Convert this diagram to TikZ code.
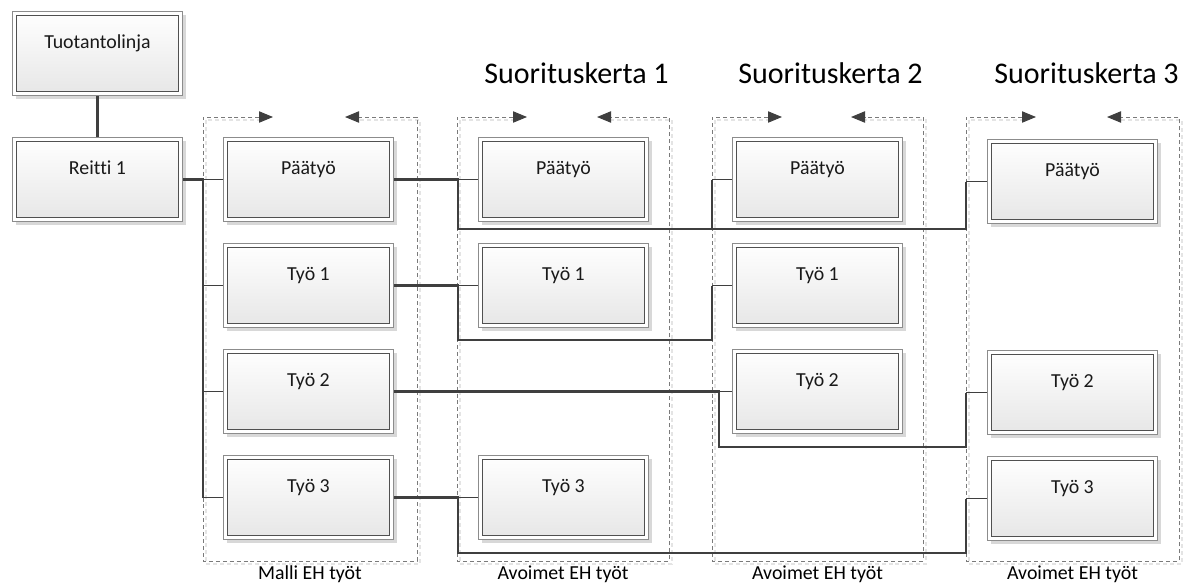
\documentclass[tikz,border=0pt]{standalone}
\usepackage{fontspec}
\setmainfont{Carlito}[Ligatures=CommonOff]
\usetikzlibrary{arrows.meta,shadows,calc}

\definecolor{linecol}{HTML}{3F3F3F}
\definecolor{framecol}{HTML}{7A7A7A}
\definecolor{frameshade}{HTML}{E4E4E4}
\definecolor{boxouter}{HTML}{8C8C8C}
\definecolor{boxinner}{HTML}{505050}
\definecolor{boxbottom}{HTML}{E6E6E6}
\definecolor{boxshade}{HTML}{D8D8D8}

\newcommand{\boxfont}{\fontsize{14.9pt}{17pt}\selectfont}
\newcommand{\titlefont}{\fontsize{22.5pt}{26pt}\selectfont}

\tikzset{
  jobbox/.style={anchor=north west, minimum width=127.5pt, minimum height=63pt,
    inner sep=0pt, draw=boxouter, line width=0.75pt, fill=white,
    drop shadow={shadow xshift=2.6pt, shadow yshift=-2.6pt, fill=boxshade, opacity=1},
    text height=4pt, text depth=11.5pt, font=\boxfont, text=black!90,
    path picture={\draw[draw=boxinner, line width=0.75pt, top color=white, bottom color=boxbottom]
      ([shift={(4,4)}]path picture bounding box.north west) rectangle
      ([shift={(-4,-4)}]path picture bounding box.south east);}},
  frameline/.style={draw=framecol, line width=0.75pt, dash pattern=on 3pt off 2.2pt},
  frameshadow/.style={draw=frameshade, line width=0.9pt, dash pattern=on 3pt off 2.2pt},
  frametip/.tip={Triangle[length=10.5pt, width=8.5pt, color=linecol, fill=linecol]},
  conn/.style={draw=linecol, line width=2.2pt},
  stub/.style={draw=linecol, line width=1.3pt},
  grouplabel/.style={anchor=base, font=\boxfont, inner sep=0pt},
  steptitle/.style={anchor=base east, font=\titlefont, inner sep=0pt}
}

\begin{document}
\begin{tikzpicture}[x=0.75pt, y=-0.75pt]
\useasboundingbox (0,0) rectangle (1197,583);

% group frames with their direction arrows and captions
\foreach \l/\r/\t/\g in {203/417/Malli EH työt/gm, 457/669/Avoimet EH työt/ga,
                         712/923/Avoimet EH työt/gb, 966/1179/Avoimet EH työt/gc} {
  \draw[frameshadow] (\l+58,120) -- (\l+3,120) -- (\l+3,564) -- (\r+3,564) -- (\r+3,120) -- (\r-58,120);
  \draw[frameline, frametip-frametip] (\l+70,117) -- (\l,117) -- (\l,561) -- (\r,561) -- (\r,117) -- (\r-72,117);
  \node[grouplabel] (\g) at ({(\l+\r)/2},579) {\t};
}

% run titles
\node[steptitle] (s1) at (669,83) {Suorituskerta 1};
\node[steptitle] (s2) at (923,83) {Suorituskerta 2};
\node[steptitle] (s3) at (1179,83) {Suorituskerta 3};

% production line and route
\node[jobbox] (tuo) at (12,11) {Tuotantolinja};
\node[jobbox] (reitti) at (12,137) {Reitti 1};

% template jobs
\node[jobbox] (m0) at (223,137) {Päätyö};
\node[jobbox] (m1) at (223,243) {Työ 1};
\node[jobbox] (m2) at (223,349) {Työ 2};
\node[jobbox] (m3) at (223,455) {Työ 3};

% open jobs, run 1
\node[jobbox] (a0) at (478,137) {Päätyö};
\node[jobbox] (a1) at (478,243) {Työ 1};
\node[jobbox] (a3) at (478,455) {Työ 3};

% open jobs, run 2
\node[jobbox] (b0) at (732,137) {Päätyö};
\node[jobbox] (b1) at (732,243) {Työ 1};
\node[jobbox] (b2) at (732,349) {Työ 2};

% open jobs, run 3
\node[jobbox] (c0) at (987,139) {Päätyö};
\node[jobbox] (c2) at (987,350) {Työ 2};
\node[jobbox] (c3) at (987,456) {Työ 3};

% routing columns and rails
\coordinate (busL) at (203,0);
\coordinate (jA) at (458,0);
\coordinate (jB) at (712,0);
\coordinate (jB2) at (719,0);
\coordinate (jC) at (966,0);
\coordinate (rP) at (0,229);
\coordinate (r1) at (0,340);
\coordinate (r2) at (0,447);
\coordinate (r3) at (0,553);

% hierarchy
\draw[conn] (tuo) -- (reitti);
\draw[conn] (reitti.east) -- (reitti.east -| busL) -- (m3.west -| busL);
\foreach \n in {m0,m1,m2,m3} \draw[stub] (\n.west -| busL) -- (\n.west);

% Päätyö
\draw[conn] (m0.east) -- (m0.east -| jA) -- (jA |- rP) -- (jC |- rP) -- (c0.west -| jC);
\draw[conn] (jB |- rP) -- (b0.west -| jB);
\draw[stub] (m0.east -| jA) -- (a0.west);
\draw[stub] (b0.west -| jB) -- (b0.west);
\draw[stub] (c0.west -| jC) -- (c0.west);

% Työ 1
\draw[conn] (m1.east) -- (m1.east -| jA) -- (jA |- r1) -- (jB |- r1) -- (b1.west -| jB);
\draw[stub] (m1.east -| jA) -- (a1.west);
\draw[stub] (b1.west -| jB) -- (b1.west);

% Työ 2
\draw[conn] (m2.east) -- (m2.east -| jB2) -- (jB2 |- r2) -- (jC |- r2) -- (c2.west -| jC);
\draw[stub] (m2.east -| jB2) -- (b2.west);
\draw[stub] (c2.west -| jC) -- (c2.west);

% Työ 3
\draw[conn] (m3.east) -- (m3.east -| jA) -- (jA |- r3) -- (jC |- r3) -- (c3.west -| jC);
\draw[stub] (m3.east -| jA) -- (a3.west);
\draw[stub] (c3.west -| jC) -- (c3.west);
\end{tikzpicture}
\end{document}
